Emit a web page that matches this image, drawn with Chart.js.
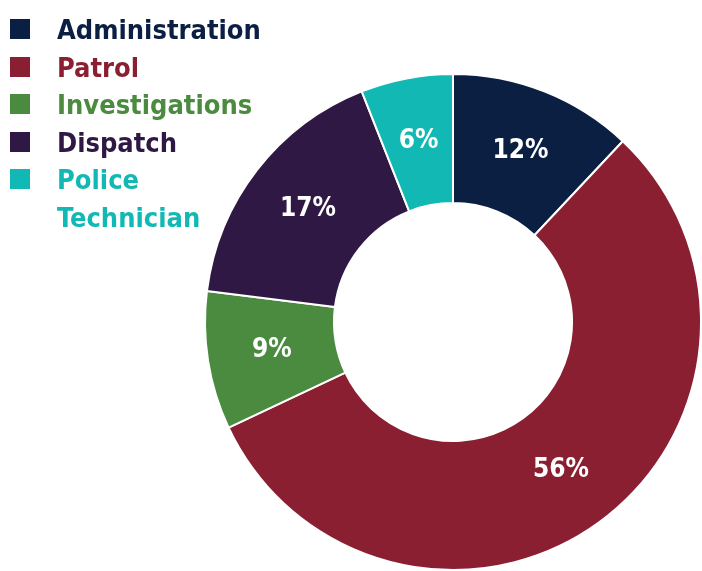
<!DOCTYPE html>
<html>
<head>
<meta charset="utf-8">
<script src="https://cdn.jsdelivr.net/npm/chart.js@4/dist/chart.umd.min.js"></script>
<style>
  html, body { margin: 0; padding: 0; background: #fff; overflow: hidden; }
  #wrap { position: relative; width: 702px; height: 571px; }
  #chart { position: absolute; left: 0; top: 0; }
  #legend {
    position: absolute; left: 10px; top: 11px;
    font-family: "DejaVu Sans Condensed", "DejaVu Sans", sans-serif;
    font-weight: bold; font-size: 27px; line-height: 37.6px;
  }
  .item { position: relative; padding-left: 47px; width: 200px; }
  .box { position: absolute; left: 0; top: 8px; width: 20px; height: 20px; }
</style>
</head>
<body>
<div id="wrap">
  <canvas id="chart" width="702" height="571"></canvas>
  <div id="legend"></div>
</div>
<script>
const categories = ["Administration", "Patrol", "Investigations", "Dispatch", "Police Technician"];
const shares = [12, 56, 9, 17, 6];
const colors = ["#0b1f43", "#8b1f32", "#4a8b3f", "#2f1944", "#12b9b4"];

// legend built by hand so the text can take the slice colour
const legend = document.getElementById("legend");
categories.forEach((name, i) => {
  const row = document.createElement("div");
  row.className = "item";
  row.style.color = colors[i];
  row.innerHTML = '<span class="box" style="background:' + colors[i] + '"></span>' + name;
  legend.appendChild(row);
});

const sliceLabels = {
  id: "sliceLabels",
  afterDatasetsDraw(chart) {
    const ctx = chart.ctx;
    const meta = chart.getDatasetMeta(0);
    ctx.save();
    ctx.fillStyle = "#fff";
    ctx.font = "bold 26px 'DejaVu Sans Condensed', 'DejaVu Sans', sans-serif";
    ctx.textAlign = "center";
    ctx.textBaseline = "middle";
    meta.data.forEach((arc, i) => {
      const p = arc.tooltipPosition();
      ctx.fillText(shares[i] + "%", p.x, p.y);
    });
    ctx.restore();
  }
};

new Chart(document.getElementById("chart"), {
  type: "doughnut",
  data: {
    labels: categories,
    datasets: [{
      data: shares,
      backgroundColor: colors,
      borderColor: "#fff",
      borderWidth: 2
    }]
  },
  options: {
    responsive: false,
    animation: false,
    cutout: "48%",
    layout: { padding: { left: 204, top: 73, right: 0, bottom: 0 } },
    plugins: {
      legend: { display: false },
      tooltip: { enabled: false }
    }
  },
  plugins: [sliceLabels]
});
</script>
</body>
</html>
